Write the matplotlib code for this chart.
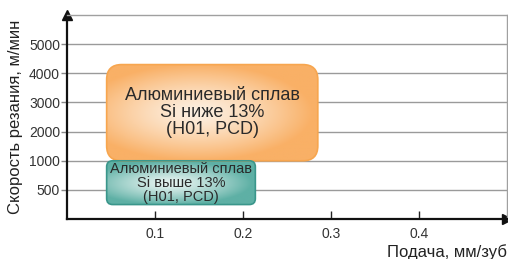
import numpy as np
import matplotlib
matplotlib.use("Agg")
import matplotlib.pyplot as plt
from matplotlib.patches import FancyBboxPatch
from matplotlib.colors import LinearSegmentedColormap

plt.rcParams['font.family'] = ['Liberation Sans', 'DejaVu Sans']

# axis data
speed_ticks = [500, 1000, 2000, 3000, 4000, 5000]
speed_steps = [0, 500, 1000, 2000, 3000, 4000, 5000, 6000]   # equally spaced on the chart
feed_ticks = [0.1, 0.2, 0.3, 0.4]
feed_lim = (0.0, 0.5)

# material regions: feed from/to, speed from/to
regions = ["Алюминиевый сплав\nSi ниже 13%\n(H01, PCD)",
           "Алюминиевый сплав\nSi выше 13%\n(H01, PCD)"]
feed_lo = [0.045, 0.045]
feed_hi = [0.285, 0.214]
speed_lo = [1000, 250]
speed_hi = [4300, 1000]
edge_cols = ['#f7a64f', '#3a968b']
mid_cols = ['#fdf0e2', '#e6f3f0']
out_cols = ['#f9b066', '#5eb0a5']
radius = [15, 6]
fsize = [13, 10.5]

pos = np.arange(len(speed_steps), dtype=float)
fwd = lambda v: np.interp(v, speed_steps, pos)
inv = lambda p: np.interp(p, pos, speed_steps)

fig = plt.figure(figsize=(5.08, 2.59), dpi=100)
ax = fig.add_axes([0.132, 0.154, 0.866, 0.788])
ax.set_yscale('function', functions=(fwd, inv))
ax.set_ylim(0, 6000)
ax.set_xlim(*feed_lim)

ax.set_yticks(speed_ticks)
ax.set_yticklabels([str(v) for v in speed_ticks], fontsize=10, color='#333333')
ax.set_xticks(feed_ticks)
ax.set_xticklabels([str(v) for v in feed_ticks], fontsize=10, color='#333333')
ax.yaxis.set_minor_locator(matplotlib.ticker.NullLocator())
ax.tick_params(axis='y', direction='out', length=4, width=1, color='#888888', pad=1)
ax.tick_params(axis='x', direction='in', length=6, width=1, color='#222222', pad=6)
ax.grid(axis='y', color='#9a9a9a', linewidth=1)
ax.set_axisbelow(True)

for s in ['top', 'right']:
    ax.spines[s].set_color('#a0a0a0')
    ax.spines[s].set_linewidth(1)
for s in ['left', 'bottom']:
    ax.spines[s].set_color('#111111')
    ax.spines[s].set_linewidth(1.6)

# arrow heads
ax.plot([0], [1], marker='^', color='#111111', markersize=7, transform=ax.transAxes, clip_on=False)
ax.plot([1], [0], marker='>', color='#111111', markersize=7, transform=ax.transAxes, clip_on=False)

ax.set_ylabel("Скорость резания, м/мин", fontsize=12, color='#222222', labelpad=4)
ax.text(1.0, -0.125, "Подача, мм/зуб", transform=ax.transAxes, ha='right', va='top',
        fontsize=12, color='#222222')

# gradient boxes
W = fig.get_figwidth() * fig.dpi * 0.866
H = fig.get_figheight() * fig.dpi * 0.788
to_ax = lambda x, y: ax.transAxes.inverted().transform(ax.transData.transform((x, y)))
gx, gy = np.meshgrid(np.linspace(-1, 1, 200), np.linspace(-1, 1, 120))
for i in range(len(regions)):
    x0, y0 = to_ax(feed_lo[i], speed_lo[i])
    x1, y1 = to_ax(feed_hi[i], speed_hi[i])
    r = radius[i] / W
    box = FancyBboxPatch((x0, y0), x1 - x0, y1 - y0,
                         boxstyle=f"round,pad=0,rounding_size={r}",
                         mutation_aspect=W / H, transform=ax.transAxes,
                         facecolor='none', edgecolor=edge_cols[i], linewidth=1.2, zorder=4)
    ax.add_patch(box)
    d = np.sqrt(((gx + 0.15) / 1.1) ** 2 + (gy / 1.0) ** 2)
    cmap = LinearSegmentedColormap.from_list('g', [mid_cols[i], out_cols[i]])
    im = ax.imshow(np.clip(d, 0, 1) ** 1.3, cmap=cmap, extent=(x0, x1, y0, y1),
                   transform=ax.transAxes, aspect='auto', zorder=3, origin='lower')
    im.set_clip_path(box)
    ax.text((x0 + x1) / 2, (y0 + y1) / 2, regions[i], transform=ax.transAxes,
            ha='center', va='center', fontsize=fsize[i], color='#2a2a2a',
            linespacing=1.0, zorder=5)

ax.set_xlim(*feed_lim)
ax.set_ylim(0, 6000)
fig.savefig("out.png", dpi=100)
